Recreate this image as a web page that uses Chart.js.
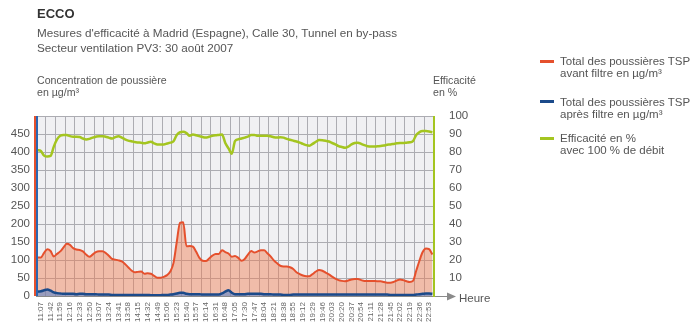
<!DOCTYPE html>
<html>
<head>
<meta charset="utf-8">
<script src="https://cdn.jsdelivr.net/npm/chart.js@4.4.1/dist/chart.umd.min.js"></script>
<style>
  body { margin: 0; background: #fff; font-family: "Liberation Sans", Arial, sans-serif; color: #555; }
  #wrap { position: relative; width: 700px; height: 334px; overflow: hidden; }
  #chart { position: absolute; left: 0; top: 0; }
  .txt { position: absolute; white-space: nowrap; }
  .title { left: 37px; top: 7px; font-size: 13px; line-height: 14px; font-weight: bold; color: #333; }
  .sub { left: 37px; top: 24.5px; font-size: 11.7px; line-height: 15px; color: #555; }
  .axt { top: 75px; font-size: 10.6px; line-height: 11.5px; color: #555; }
  .leg { left: 560px; font-size: 11.5px; line-height: 12.5px; color: #555; }
  .mark { position: absolute; left: 540px; width: 14px; height: 3px; }
  .heure { left: 459px; top: 291px; font-size: 11.5px; line-height: 14px; color: #555; }
</style>
</head>
<body>
<div id="wrap">
  <canvas id="chart" width="700" height="334"></canvas>
  <div class="txt title">ECCO</div>
  <div class="txt sub">Mesures d'efficacité à Madrid (Espagne), Calle 30, Tunnel en by-pass<br>Secteur ventilation PV3: 30 août 2007</div>
  <div class="txt axt" style="left:37px">Concentration de poussière<br>en µg/m³</div>
  <div class="txt axt" style="left:433px">Efficacité<br>en %</div>

  <div class="mark" style="top:59.5px;background:#e5502d"></div>
  <div class="txt leg" style="top:54.75px">Total des poussières TSP<br>avant filtre en µg/m³</div>
  <div class="mark" style="top:100px;background:#1b4a8a"></div>
  <div class="txt leg" style="top:95.5px">Total des poussières TSP<br>après filtre en µg/m³</div>
  <div class="mark" style="top:136.5px;background:#a4c520"></div>
  <div class="txt leg" style="top:131.75px">Efficacité en %<br>avec 100 % de débit</div>

  <div class="txt heure">Heure</div>
</div>
<script>
const categories = ["11:07","11:42","11:59","12:16","12:33","12:50","13:07","13:24","13:41","13:58",
  "14:15","14:32","14:49","15:06","15:23","15:40","15:57","16:14","16:31","16:48",
  "17:05","17:30","17:47","18:04","18:21","18:38","18:55","19:12","19:29","19:46",
  "20:03","20:20","20:37","20:54","21:11","21:28","21:45","22:02","22:19","22:36","22:53"];

// 3 readings per time slot
const avantFiltre = [
  107,107,120,130,125,110,117,124,135,145,
  142,133,129,128,124,115,109,115,122,124,
  124,120,112,103,101,99,96,89,80,71,
  66,67,68,62,63,62,56,51,51,53,
  58,68,92,150,203,205,138,139,137,123,
  106,98,97,104,112,117,117,127,122,118,
  109,111,106,98,103,115,125,121,124,127,
  127,119,110,99,91,84,82,82,80,75,
  66,61,57,55,55,61,68,72,70,65,
  60,54,48,44,42,41,43,46,47,47,
  44,42,42,42,42,41,41,39,37,37,
  39,43,46,44,41,39,42,70,98,122,
  132,130,115];

const apresFiltre = [
  12,13,16,18,15,10,8,7,6,6,
  6,6,5,6,6,5,5,5,5,4,
  4,4,4,3,3,3,3,3,3,3,
  3,3,3,3,3,2,2,2,2,3,
  3,4,5,7,9,9,6,5,5,5,
  5,4,4,4,4,4,4,7,12,16,
  9,5,5,5,5,6,6,6,6,6,
  5,5,5,4,4,4,3,3,3,4,
  4,4,4,4,4,4,4,4,4,4,
  4,4,4,4,4,4,4,4,4,4,
  4,4,4,4,4,4,4,4,4,3,
  3,3,3,3,3,3,3,4,5,6,
  7,7,6];

const efficacite = [
  81,80.5,78,77.5,77.8,83,87,89,89.5,89.4,
  88.8,88.5,88.5,88.3,87.5,87,87.3,88,88.5,88.8,
  88.8,88.5,88,87.5,88.3,88.8,88,87,86.3,86,
  85.5,85.3,85.2,84.8,85.3,85.7,84.8,84.2,84.2,84.2,
  84.7,85.2,86,89.5,91,91.2,90.5,89,89.7,89.3,
  88.8,88.3,88,88.5,89,89.3,89.5,89.7,85,82,
  79,86,87,87.5,88,88.5,89.5,89.5,89,89,
  89,89,88.7,88.2,88,88.2,88,87.3,86.8,86.3,
  85.8,85.2,84.5,83.8,83.5,84.5,85.7,86.6,86.5,86.2,
  85.8,85,84.3,83.3,82.8,82.4,83,84.2,85,85.2,
  84.5,83.8,83.2,83,83,83.2,83.3,83.6,84,84.2,
  84.5,84.8,85,85,85.2,85.4,86,89.5,91,91.6,
  91.6,91.4,91];

const concTicks = [0, 50, 100, 150, 200, 250, 300, 350, 400, 450, 500];
const effTicks = [0, 10, 20, 30, 40, 50, 60, 70, 80, 90, 100];

const labels = [];
categories.forEach(c => labels.push("", c, ""));

const gridColor = "#acacb2";

const plotDecor = {
  id: "plotDecor",
  beforeDraw(chart) {
    const { ctx, chartArea: a } = chart;
    ctx.save();
    ctx.fillStyle = "#f0f0f3";
    ctx.fillRect(a.left, a.top, a.right - a.left, a.bottom - a.top);
    ctx.restore();
  },
  afterDatasetsDraw(chart) {
    const { ctx, chartArea: a } = chart;
    ctx.save();
    ctx.lineWidth = 2;
    ctx.strokeStyle = "#e5502d";
    ctx.beginPath(); ctx.moveTo(a.left - 1, a.top); ctx.lineTo(a.left - 1, a.bottom); ctx.stroke();
    ctx.strokeStyle = "#2a66b0";
    ctx.beginPath(); ctx.moveTo(a.left + 1, a.top); ctx.lineTo(a.left + 1, a.bottom); ctx.stroke();
    ctx.strokeStyle = "#a4c520";
    ctx.beginPath(); ctx.moveTo(a.right, a.top); ctx.lineTo(a.right, a.bottom + 1); ctx.stroke();
    // time axis arrow
    ctx.strokeStyle = "#8a8a8a";
    ctx.fillStyle = "#8a8a8a";
    ctx.lineWidth = 1;
    ctx.beginPath(); ctx.moveTo(a.right + 1, a.bottom + 0.5); ctx.lineTo(a.right + 16, a.bottom + 0.5); ctx.stroke();
    ctx.beginPath();
    ctx.moveTo(a.right + 22, a.bottom + 0.5);
    ctx.lineTo(a.right + 13, a.bottom - 3.5);
    ctx.lineTo(a.right + 13, a.bottom + 4.5);
    ctx.closePath(); ctx.fill();
    ctx.restore();
  }
};

new Chart(document.getElementById("chart"), {
  type: "line",
  data: {
    labels: labels,
    datasets: [
      {
        label: "Efficacité en %",
        data: efficacite,
        yAxisID: "y1",
        borderColor: "#a4c520",
        borderWidth: 2.5,
        pointRadius: 0,
        cubicInterpolationMode: "monotone",
        fill: false,
        order: 0,
      },
      {
        label: "Total des poussières TSP après filtre",
        data: apresFiltre,
        yAxisID: "y",
        borderColor: "#1b4a8a",
        backgroundColor: "rgba(80,130,205,0.55)",
        borderWidth: 2.5,
        pointRadius: 0,
        cubicInterpolationMode: "monotone",
        fill: "origin",
        order: 1,
      },
      {
        label: "Total des poussières TSP avant filtre",
        data: avantFiltre,
        yAxisID: "y",
        borderColor: "#e5502d",
        backgroundColor: "rgba(240,125,80,0.45)",
        borderWidth: 2,
        pointRadius: 0,
        cubicInterpolationMode: "monotone",
        fill: "origin",
        order: 2,
      },
    ],
  },
  options: {
    responsive: false,
    animation: false,
    layout: { padding: { left: 0, right: 226, top: 116, bottom: 0 } },
    plugins: { legend: { display: false }, tooltip: { enabled: false } },
    scales: {
      x: {
        type: "category",
        offset: true,
        grid: {
          offset: true,
          drawTicks: false,
          color: c => (c.index % 3 === 0 ? gridColor : "rgba(0,0,0,0)"),
        },
        border: { display: true, color: "#8a8a8a" },
        ticks: {
          autoSkip: false,
          minRotation: 90,
          maxRotation: 90,
          padding: 6,
          color: "#666",
          font: { family: "Liberation Sans", size: 8 },
        },
        afterFit: s => { s.height = 38; },
      },
      y: {
        position: "left",
        min: 0,
        max: 500,
        afterBuildTicks: s => { s.ticks = concTicks.map(v => ({ value: v })); },
        ticks: {
          callback: v => (v === 500 ? "" : v),
          padding: 6,
          color: "#555",
          font: { family: "Liberation Sans", size: 11.5 },
        },
        grid: { color: gridColor, drawTicks: false },
        border: { display: false },
        afterFit: s => { s.width = 36; },
      },
      y1: {
        position: "right",
        min: 0,
        max: 100,
        afterBuildTicks: s => { s.ticks = effTicks.map(v => ({ value: v })); },
        ticks: {
          callback: v => (v === 0 ? "" : v),
          padding: 7,
          color: "#555",
          font: { family: "Liberation Sans", size: 11.5 },
        },
        grid: { display: false },
        border: { display: false },
        afterFit: s => { s.width = 40; },
      },
    },
  },
  plugins: [plotDecor],
});
</script>
</body>
</html>
